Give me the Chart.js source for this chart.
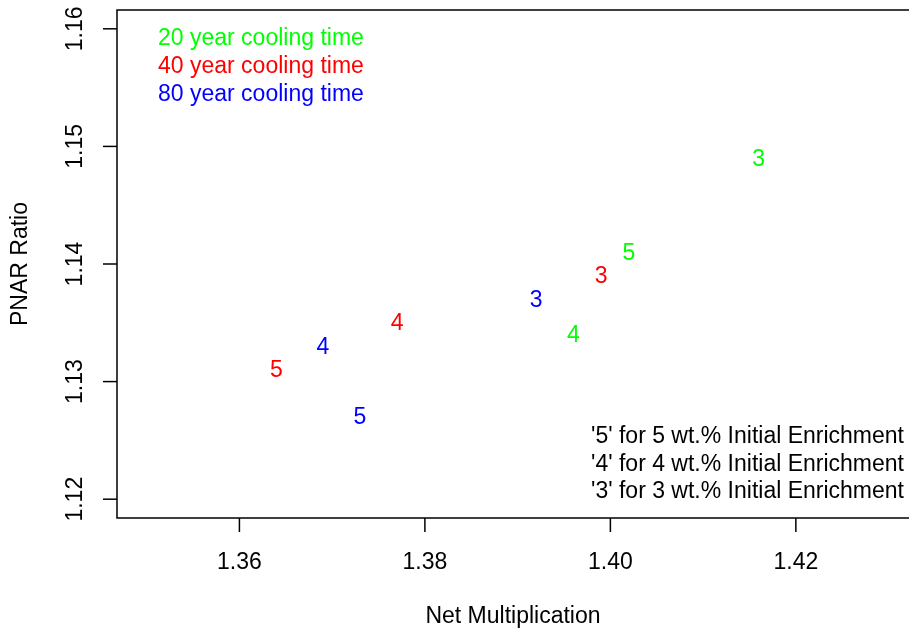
<!DOCTYPE html>
<html>
<head>
<meta charset="utf-8">
<script src="https://cdn.jsdelivr.net/npm/chart.js@4"></script>
<style>
  html, body { margin: 0; padding: 0; background: #fff; }
  #wrap { width: 909px; height: 632px; }
</style>
</head>
<body>
<div id="wrap"><canvas id="pnarChart" width="909" height="632"></canvas></div>
<script>
// Datos: multiplicación neta (x) y razón PNAR (y) por tiempo de enfriamiento
const enrichLabels = ['3', '4', '5'];
const netMult20 = [1.416, 1.396, 1.402];
const pnar20 = [1.149, 1.134, 1.141];
const netMult40 = [1.399, 1.377, 1.364];
const pnar40 = [1.139, 1.135, 1.131];
const netMult80 = [1.392, 1.369, 1.373];
const pnar80 = [1.137, 1.133, 1.127];

const xTicks = [1.36, 1.38, 1.40, 1.42];
const xTickLabels = ['1.36', '1.38', '1.40', '1.42'];
const yTicks = [1.12, 1.13, 1.14, 1.15, 1.16];
const yTickLabels = ['1.12', '1.13', '1.14', '1.15', '1.16'];

const coolingLegend = ['20 year cooling time', '40 year cooling time', '80 year cooling time'];
const enrichLegend = ["'5' for 5 wt.% Initial Enrichment", "'4' for 4 wt.% Initial Enrichment", "'3' for 3 wt.% Initial Enrichment"];
const colors = ['#00ff00', '#ff0000', '#0000ff'];

const FONT = '23px "Liberation Sans", Arial, sans-serif';

function toPoints(xs, ys) {
    return xs.map((x, i) => ({ x: x, y: ys[i] }));
}

// Plugin para dibujar ejes estilo R, etiquetas de puntos y leyendas
const rStylePlugin = {
    id: 'rStyle',
    afterDatasetsDraw(chart) {
        const ctx = chart.ctx;
        const area = chart.chartArea;
        const xs = chart.scales.x;
        const ys = chart.scales.y;
        ctx.save();

        // caja (el borde derecho queda fuera del lienzo)
        ctx.strokeStyle = '#000';
        ctx.lineWidth = 1.5;
        ctx.beginPath();
        ctx.moveTo(area.right + 5, area.top);
        ctx.lineTo(area.left, area.top);
        ctx.lineTo(area.left, area.bottom);
        ctx.lineTo(area.right + 5, area.bottom);
        ctx.stroke();

        ctx.font = FONT;
        ctx.fillStyle = '#000';

        // eje x
        ctx.textAlign = 'center';
        ctx.textBaseline = 'middle';
        xTicks.forEach((v, i) => {
            const px = xs.getPixelForValue(v);
            ctx.beginPath();
            ctx.moveTo(px, area.bottom);
            ctx.lineTo(px, area.bottom + 14);
            ctx.stroke();
            ctx.fillText(xTickLabels[i], px, area.bottom + 45);
        });

        // eje y (etiquetas giradas)
        yTicks.forEach((v, i) => {
            const py = ys.getPixelForValue(v);
            ctx.beginPath();
            ctx.moveTo(area.left, py);
            ctx.lineTo(area.left - 14, py);
            ctx.stroke();
            ctx.save();
            ctx.translate(area.left - 41, py);
            ctx.rotate(-Math.PI / 2);
            ctx.fillText(yTickLabels[i], 0, 0);
            ctx.restore();
        });

        // títulos
        ctx.fillText('Net Multiplication', 513, area.bottom + 99);
        ctx.save();
        ctx.translate(21, (area.top + area.bottom) / 2);
        ctx.rotate(-Math.PI / 2);
        ctx.fillText('PNAR Ratio', 0, 0);
        ctx.restore();

        // etiquetas de puntos
        chart.data.datasets.forEach((ds, di) => {
            const meta = chart.getDatasetMeta(di);
            ctx.fillStyle = ds.borderColor;
            meta.data.forEach((el, i) => {
                ctx.fillText(enrichLabels[i], el.x, el.y + 1);
            });
        });

        // leyenda superior izquierda
        ctx.textAlign = 'left';
        coolingLegend.forEach((t, i) => {
            ctx.fillStyle = colors[i];
            ctx.fillText(t, area.left + 41, area.top + 29 + i * 28);
        });

        // leyenda inferior derecha
        ctx.textAlign = 'right';
        ctx.fillStyle = '#000';
        enrichLegend.forEach((t, i) => {
            ctx.fillText(t, 904, area.bottom - 81 + i * 27.5);
        });

        ctx.restore();
    }
};

document.addEventListener('DOMContentLoaded', function() {
    const ctx = document.getElementById('pnarChart').getContext('2d');
    new Chart(ctx, {
        type: 'scatter',
        data: {
            datasets: [
                { label: '20 year', data: toPoints(netMult20, pnar20), borderColor: colors[0], backgroundColor: colors[0] },
                { label: '40 year', data: toPoints(netMult40, pnar40), borderColor: colors[1], backgroundColor: colors[1] },
                { label: '80 year', data: toPoints(netMult80, pnar80), borderColor: colors[2], backgroundColor: colors[2] }
            ]
        },
        options: {
            responsive: false,
            animation: false,
            layout: { padding: { left: 117, top: 10, right: 0, bottom: 114 } },
            elements: { point: { radius: 0, hoverRadius: 0 } },
            plugins: { legend: { display: false }, tooltip: { enabled: false } },
            scales: {
                x: { type: 'linear', display: false, min: 1.3468, max: 1.4322 },
                y: { type: 'linear', display: false, min: 1.1184, max: 1.1616 }
            }
        },
        plugins: [rStylePlugin]
    });
});
</script>
</body>
</html>
